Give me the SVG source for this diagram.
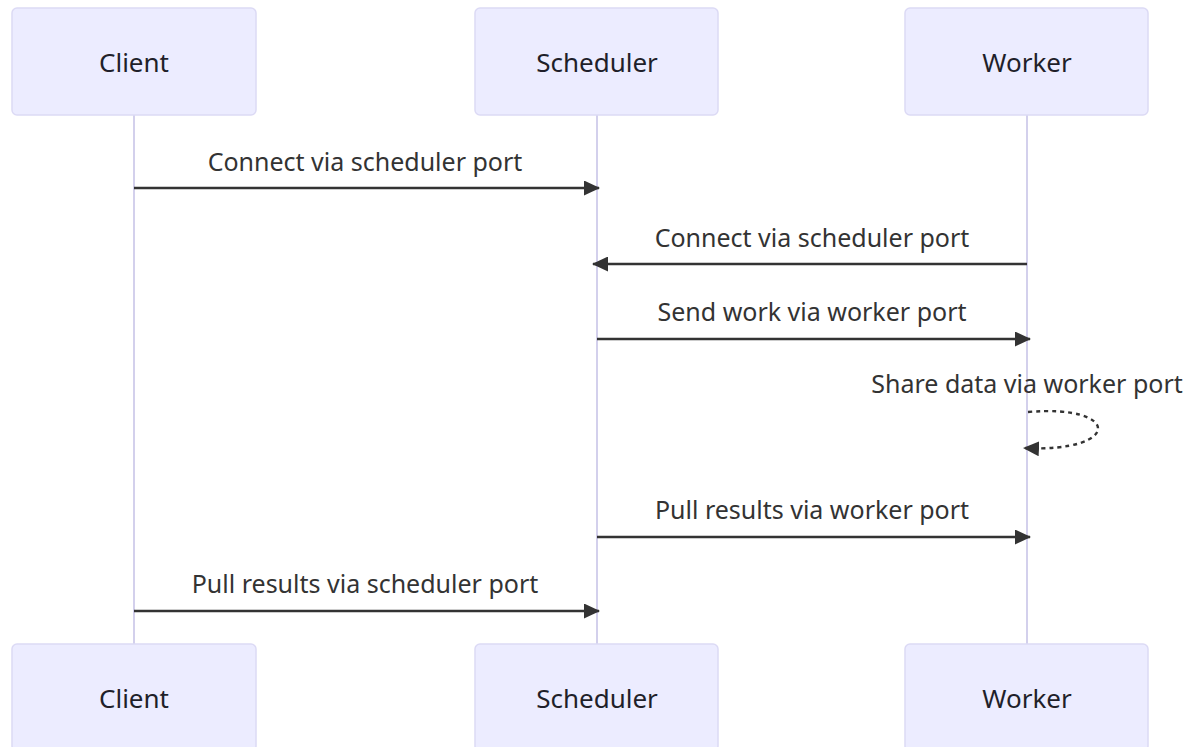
<svg xmlns="http://www.w3.org/2000/svg" width="1186" height="747" viewBox="0 0 1186 747">
  <style>
    .actor rect { fill: #ececff; stroke: #dcdaf5; stroke-width: 1.5; }
    .actor text { font-family: "Noto Sans", "DejaVu Sans", sans-serif; font-size: 26px; fill: #1f1f2a; text-anchor: middle; }
    .lifeline { stroke: #d3d0ec; stroke-width: 2; fill: none; }
    .msg { stroke: #333333; stroke-width: 2.4; fill: none; }
    .msg.dotted { stroke-dasharray: 4 4; }
    .label { font-family: "Noto Sans", "DejaVu Sans", sans-serif; font-size: 25px; fill: #333333; text-anchor: middle; }
  </style>
  <defs>
    <marker id="arrowhead" viewBox="0 0 16 15" refX="15" refY="7.5" markerWidth="16" markerHeight="15" markerUnits="userSpaceOnUse" orient="auto">
      <path d="M0,0 L16,7.5 L0,15 z" fill="#333333"/>
    </marker>
  </defs>
  <rect width="1186" height="747" fill="#ffffff"/>

  <!-- lifelines -->
  <g id="lifelines">
    <line class="lifeline" x1="134" y1="115" x2="134" y2="644"/>
    <line class="lifeline" x1="597" y1="115" x2="597" y2="644"/>
    <line class="lifeline" x1="1027" y1="115" x2="1027" y2="644"/>
  </g>

  <!-- participants, top row -->
  <g id="client-top" class="actor">
    <rect x="12" y="8" width="244" height="107" rx="5"/>
    <text x="134" y="72">Client</text>
  </g>
  <g id="scheduler-top" class="actor">
    <rect x="475" y="8" width="243" height="107" rx="5"/>
    <text x="597" y="72">Scheduler</text>
  </g>
  <g id="worker-top" class="actor">
    <rect x="905" y="8" width="243" height="107" rx="5"/>
    <text x="1027" y="72">Worker</text>
  </g>

  <!-- participants, bottom row -->
  <g id="client-bottom" class="actor">
    <rect x="12" y="644" width="244" height="107" rx="5"/>
    <text x="134" y="708">Client</text>
  </g>
  <g id="scheduler-bottom" class="actor">
    <rect x="475" y="644" width="243" height="107" rx="5"/>
    <text x="597" y="708">Scheduler</text>
  </g>
  <g id="worker-bottom" class="actor">
    <rect x="905" y="644" width="243" height="107" rx="5"/>
    <text x="1027" y="708">Worker</text>
  </g>

  <!-- messages -->
  <g id="connectors">
    <line class="msg" x1="134" y1="188" x2="599" y2="188" marker-end="url(#arrowhead)"/>
    <line class="msg" x1="1027" y1="264" x2="593" y2="264" marker-end="url(#arrowhead)"/>
    <line class="msg" x1="597" y1="339" x2="1030" y2="339" marker-end="url(#arrowhead)"/>
    <path class="msg dotted" d="M1028,412 C1122,404 1122,453 1024,448" marker-end="url(#arrowhead)"/>
    <line class="msg" x1="597" y1="537" x2="1030" y2="537" marker-end="url(#arrowhead)"/>
    <line class="msg" x1="134" y1="611" x2="599" y2="611" marker-end="url(#arrowhead)"/>
  </g>

  <g id="labels">
    <text class="label" x="365" y="171">Connect via scheduler port</text>
    <text class="label" x="812" y="247">Connect via scheduler port</text>
    <text class="label" x="812" y="321">Send work via worker port</text>
    <text class="label" x="1027" y="393">Share data via worker port</text>
    <text class="label" x="812" y="519">Pull results via worker port</text>
    <text class="label" x="365" y="593">Pull results via scheduler port</text>
  </g>
</svg>
